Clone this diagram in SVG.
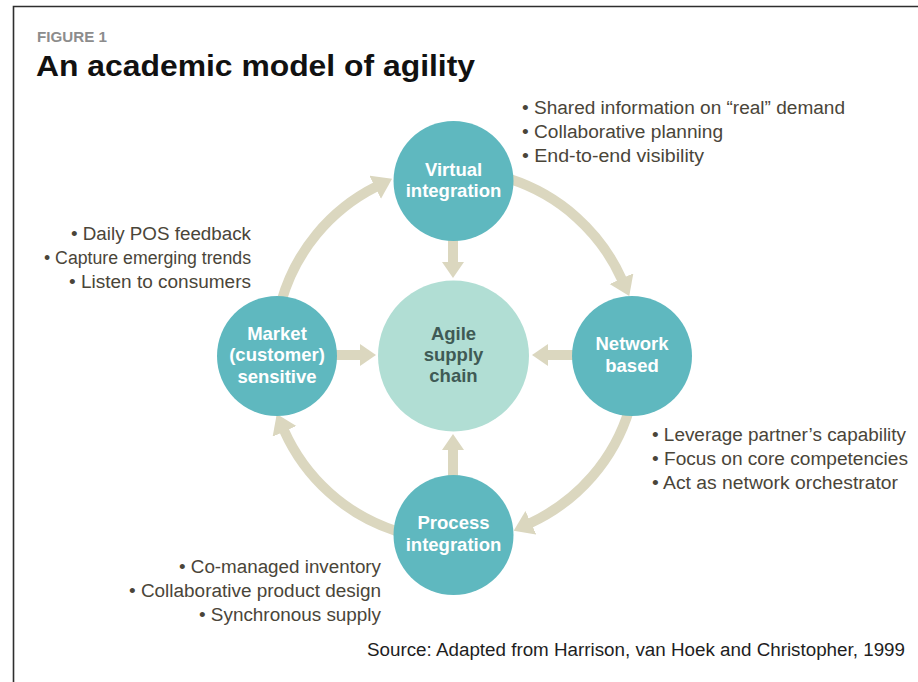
<svg xmlns="http://www.w3.org/2000/svg" width="918" height="682" viewBox="0 0 918 682">
  <style>
    .frame { stroke: #2e2e2e; stroke-width: 1.6; fill: none; }
    .kicker { font-family: "Liberation Sans", Arial, sans-serif; font-weight: bold; font-size: 14px; fill: #8c8c8c; }
    .title { font-family: "Liberation Sans", Arial, sans-serif; font-weight: bold; font-size: 30px; fill: #111; }
    .node { fill: #5fb8bf; }
    .hub { fill: #b1ded4; }
    .nlabel { font-family: "Liberation Sans", Arial, sans-serif; font-weight: bold; font-size: 18.5px; fill: #ffffff; text-anchor: middle; }
    .hlabel { font-family: "Liberation Sans", Arial, sans-serif; font-weight: bold; font-size: 18.5px; fill: #3f5a55; text-anchor: middle; }
    .bul { font-family: "Liberation Sans", Arial, sans-serif; font-size: 18px; fill: #4a4539; }
    .end { text-anchor: end; }
    .src { font-family: "Liberation Sans", Arial, sans-serif; font-size: 18px; fill: #1e1e1e; text-anchor: end; }
    .flow { fill: none; stroke: #dbd7bf; stroke-width: 10; }
  </style>
  <defs>
    <marker id="headArc" markerUnits="userSpaceOnUse" markerWidth="22" markerHeight="28" refX="1" refY="13" orient="auto">
      <path d="M0,0 L19,13 L0,26 Z" fill="#dbd7bf"/>
    </marker>
    <marker id="headStraight" markerUnits="userSpaceOnUse" markerWidth="18" markerHeight="24" refX="1" refY="11" orient="auto">
      <path d="M0,0 L16,11 L0,22 Z" fill="#dbd7bf"/>
    </marker>
  </defs>

  <!-- frame: top and left rules -->
  <path class="frame" d="M13.5,682 L13.5,6.5 L918,6.5"/>

  <text class="kicker" x="37" y="42" textLength="70" lengthAdjust="spacingAndGlyphs">FIGURE 1</text>
  <text class="title" x="36" y="76" textLength="439" lengthAdjust="spacingAndGlyphs">An academic model of agility</text>

  <g id="connectors">
    <!-- outer cycle -->
    <path class="flow" marker-end="url(#headArc)" d="M281.2,301.9 A185,185 0 0 1 376.0,186.8"/>
    <path class="flow" marker-end="url(#headArc)" d="M509.9,179.1 A185,185 0 0 1 621.9,279.5"/>
    <path class="flow" marker-end="url(#headArc)" d="M629.5,408.7 A185,185 0 0 1 530.0,523.2"/>
    <path class="flow" marker-end="url(#headArc)" d="M396.1,531.0 A185,185 0 0 1 284.1,430.5"/>
    <!-- spokes into the hub -->
    <path class="flow" marker-end="url(#headStraight)" d="M453,235 L453,263"/>
    <path class="flow" marker-end="url(#headStraight)" d="M330,355 L361,355"/>
    <path class="flow" marker-end="url(#headStraight)" d="M580,355 L547,355"/>
    <path class="flow" marker-end="url(#headStraight)" d="M453,478 L453,449"/>
  </g>

  <g id="hub">
    <circle class="hub" cx="453.5" cy="356" r="75.5"/>
    <text class="hlabel" x="453.5" y="340">Agile</text>
    <text class="hlabel" x="453.5" y="361">supply</text>
    <text class="hlabel" x="453.5" y="382">chain</text>
  </g>

  <g id="virtual">
    <circle class="node" cx="453.5" cy="181" r="60"/>
    <text class="nlabel" x="453.5" y="176">Virtual</text>
    <text class="nlabel" x="453.5" y="197">integration</text>
  </g>

  <g id="network">
    <circle class="node" cx="632" cy="356" r="60"/>
    <text class="nlabel" x="632" y="350">Network</text>
    <text class="nlabel" x="632" y="372">based</text>
  </g>

  <g id="process">
    <circle class="node" cx="453.5" cy="535" r="60"/>
    <text class="nlabel" x="453.5" y="529">Process</text>
    <text class="nlabel" x="453.5" y="551">integration</text>
  </g>

  <g id="market">
    <circle class="node" cx="277" cy="356" r="60"/>
    <text class="nlabel" x="277" y="340">Market</text>
    <text class="nlabel" x="277" y="361">(customer)</text>
    <text class="nlabel" x="277" y="383">sensitive</text>
  </g>

  <g id="virtual-notes">
    <text class="bul" x="522" y="114" textLength="323" lengthAdjust="spacingAndGlyphs">• Shared information on “real” demand</text>
    <text class="bul" x="522" y="138" textLength="201" lengthAdjust="spacingAndGlyphs">• Collaborative planning</text>
    <text class="bul" x="522" y="162" textLength="182" lengthAdjust="spacingAndGlyphs">• End-to-end visibility</text>
  </g>

  <g id="market-notes">
    <text class="bul end" x="251" y="240" textLength="180" lengthAdjust="spacingAndGlyphs">• Daily POS feedback</text>
    <text class="bul end" x="251" y="264" textLength="207" lengthAdjust="spacingAndGlyphs">• Capture emerging trends</text>
    <text class="bul end" x="251" y="288" textLength="182" lengthAdjust="spacingAndGlyphs">• Listen to consumers</text>
  </g>

  <g id="network-notes">
    <text class="bul" x="652" y="441" textLength="254" lengthAdjust="spacingAndGlyphs">• Leverage partner’s capability</text>
    <text class="bul" x="652" y="465" textLength="256" lengthAdjust="spacingAndGlyphs">• Focus on core competencies</text>
    <text class="bul" x="652" y="489" textLength="246" lengthAdjust="spacingAndGlyphs">• Act as network orchestrator</text>
  </g>

  <g id="process-notes">
    <text class="bul end" x="381" y="573" textLength="202" lengthAdjust="spacingAndGlyphs">• Co-managed inventory</text>
    <text class="bul end" x="381" y="597" textLength="252" lengthAdjust="spacingAndGlyphs">• Collaborative product design</text>
    <text class="bul end" x="381" y="621" textLength="182" lengthAdjust="spacingAndGlyphs">• Synchronous supply</text>
  </g>

  <text class="src" x="905" y="656" textLength="538" lengthAdjust="spacingAndGlyphs">Source: Adapted from Harrison, van Hoek and Christopher, 1999</text>
</svg>
